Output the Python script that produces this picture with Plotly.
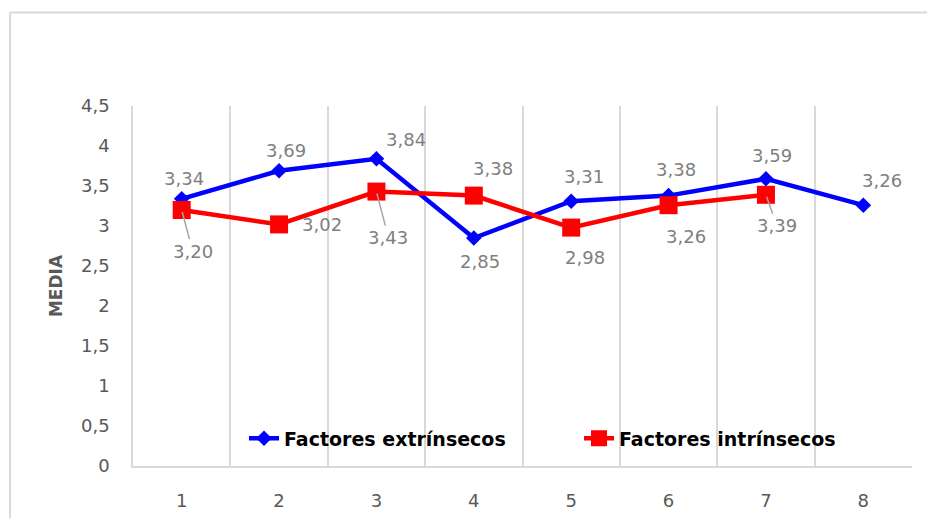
import plotly.graph_objects as go

# Categories and mean scores per factor group
categories = [1, 2, 3, 4, 5, 6, 7, 8]
extrinsecos = [3.34, 3.69, 3.84, 2.85, 3.31, 3.38, 3.59, 3.26]
intrinsecos = [3.20, 3.02, 3.43, 3.38, 2.98, 3.26, 3.39, None]
y_ticks = [0, 0.5, 1, 1.5, 2, 2.5, 3, 3.5, 4, 4.5]

# Label placement (pixel offsets from each point, +dy = downwards)
ext_label_offsets = [(2, -20), (7, -20), (30, -19), (6, 23), (13, -25), (7, -26), (6, -23), (19, -25)]
int_label_offsets = [(11, 41), (43, 0), (12, 46), (19, -27), (14, 30), (17, 31), (11, 31), None]
int_leader = [True, False, True, False, False, False, True, False]

FONT = "DejaVu Sans"
BLUE = "#0000ff"
RED = "#ff0000"
LABEL_GRAY = "#7f7f7f"
TICK_GRAY = "#595959"
GRID = "#d9d9d9"

W, H = 927, 523
ML, MR, MT, MB = 133, 15, 106, 51
PW, PH = W - ML - MR, H - MT - MB


def fmt(v):
    return f"{v:.2f}".replace(".", ",")


def px_x(p):
    return (p - ML) / PW


def px_y(p):
    return (PH + MT - p) / PH


fig = go.Figure()
fig.add_trace(go.Scatter(
    x=categories, y=extrinsecos, mode="lines+markers", name="Factores extrínsecos",
    line=dict(color=BLUE, width=4.5),
    marker=dict(symbol="diamond", size=12, color=BLUE),
))
fig.add_trace(go.Scatter(
    x=categories, y=intrinsecos, mode="lines+markers", name="Factores intrínsecos",
    line=dict(color=RED, width=4.5),
    marker=dict(symbol="square", size=18, color=RED),
))

annotations = []
for c, v, (dx, dy) in zip(categories, extrinsecos, ext_label_offsets):
    annotations.append(dict(
        x=c, y=v, xref="x", yref="y", text=fmt(v), showarrow=False,
        xshift=dx, yshift=-dy, font=dict(family=FONT, size=18, color=LABEL_GRAY),
    ))
for c, v, off, lead in zip(categories, intrinsecos, int_label_offsets, int_leader):
    if v is None:
        continue
    dx, dy = off
    if lead:
        annotations.append(dict(
            x=c, y=v, xref="x", yref="y", text=fmt(v), showarrow=True,
            ax=dx, ay=dy, arrowhead=0, arrowwidth=1.5, arrowcolor="#a6a6a6",
            standoff=2, font=dict(family=FONT, size=18, color=LABEL_GRAY),
        ))
    else:
        annotations.append(dict(
            x=c, y=v, xref="x", yref="y", text=fmt(v), showarrow=False,
            xshift=dx, yshift=-dy, font=dict(family=FONT, size=18, color=LABEL_GRAY),
        ))

# Outer chart frame: only the top and left edges fall inside the page
frame = dict(color=GRID, width=2)
fig.add_shape(type="line", xref="paper", yref="paper",
              x0=px_x(10), x1=px_x(W + 2), y0=px_y(11), y1=px_y(11), line=frame)
fig.add_shape(type="line", xref="paper", yref="paper",
              x0=px_x(10), x1=px_x(10), y0=px_y(11), y1=px_y(H + 2), line=frame)

fig.update_layout(
    width=W, height=H,
    margin=dict(l=ML, r=MR, t=MT, b=MB),
    paper_bgcolor="white", plot_bgcolor="white",
    separators=",.",
    font=dict(family=FONT, color=TICK_GRAY),
    showlegend=True,
    legend=dict(
        orientation="h", x=px_x(244), xanchor="left",
        y=px_y(444), yanchor="middle",
        bgcolor="rgba(0,0,0,0)", entrywidth=290,
        font=dict(family=FONT, size=19, color="black", weight="bold"),
    ),
    annotations=annotations,
    xaxis=dict(
        range=[0.5, 8.5], tickmode="array", tickvals=categories,
        ticktext=[str(c) for c in categories],
        showgrid=False, zeroline=False,
        showline=True, linecolor=GRID, linewidth=1.5,
        ticks="", ticklabelstandoff=18,
        tickfont=dict(family=FONT, size=18, color=TICK_GRAY),
        minor=dict(tick0=0.5, dtick=1, showgrid=True, gridcolor=GRID, gridwidth=1.5),
    ),
    yaxis=dict(
        range=[0, 4.5], tickmode="array", tickvals=y_ticks,
        showgrid=False, zeroline=False,
        showline=True, linecolor=GRID, linewidth=1.5,
        ticks="", ticklabelstandoff=18,
        tickfont=dict(family=FONT, size=18, color=TICK_GRAY),
        title=dict(text="MEDIA", standoff=14,
                   font=dict(family=FONT, size=17, color=TICK_GRAY, weight="bold")),
    ),
)

fig.write_html("out.html")
